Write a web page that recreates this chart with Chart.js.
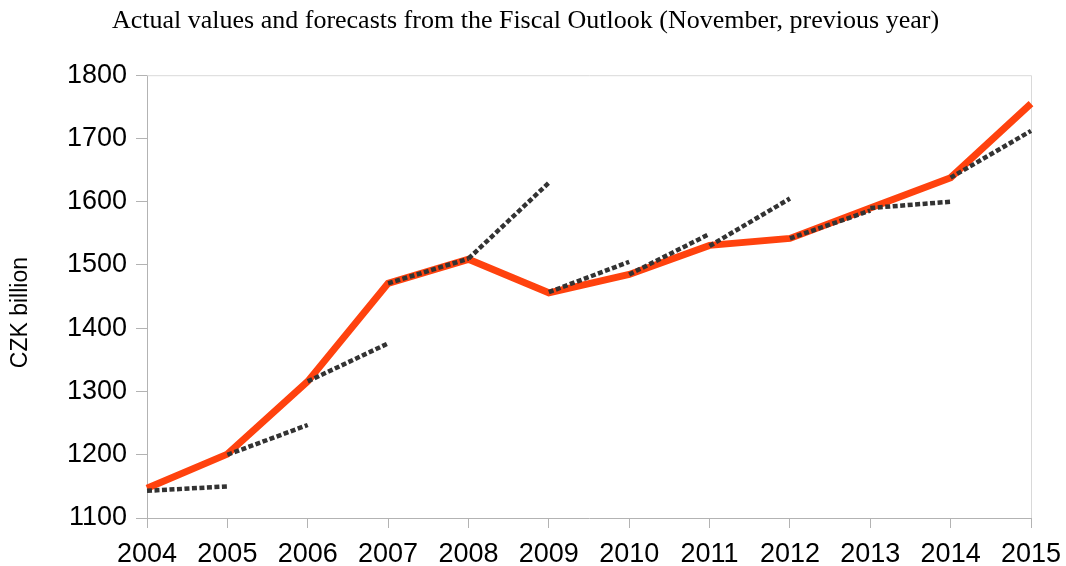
<!DOCTYPE html>
<html>
<head>
<meta charset="utf-8">
<script src="https://cdn.jsdelivr.net/npm/chart.js@4"></script>
<style>
  html, body { margin: 0; padding: 0; background: #fff; }
  #wrap { width: 1066px; height: 566px; }
</style>
</head>
<body>
<div id="wrap"><canvas id="fiscalChart" width="1066" height="566"></canvas></div>
<script>
// Years on the x axis
const years = ['2004', '2005', '2006', '2007', '2008', '2009', '2010', '2011', '2012', '2013', '2014', '2015'];
// Actual values, CZK billion
const actual = [1147, 1201, 1316, 1471, 1509, 1456, 1485, 1531, 1542, 1590, 1638, 1755];
// Each forecast runs from year i to year i+1
const forecastStart = [1143, 1200, 1316, 1471, 1510, 1457, 1485, 1530, 1542, 1590, 1638];
const forecastEnd = [1150, 1247, 1376, 1510, 1630, 1505, 1549, 1605, 1586, 1600, 1712];

// one small dataset per forecast, nulls everywhere else
const forecastSets = forecastStart.map(function(v, i) {
    const row = years.map(function() { return null; });
    row[i] = v;
    row[i + 1] = forecastEnd[i];
    return {
        label: 'Forecast ' + years[i + 1],
        data: row,
        borderColor: '#333333',
        borderWidth: 4.5,
        borderDash: [5, 2.5],
        borderCapStyle: 'butt',
        pointRadius: 0,
        fill: false,
        order: 1
    };
});

// light frame on the top and right of the plot area
const frame = {
    id: 'frame',
    beforeDatasetsDraw: function(chart) {
        const a = chart.chartArea;
        const c = chart.ctx;
        c.save();
        c.strokeStyle = '#d9d9d9';
        c.lineWidth = 1;
        c.beginPath();
        c.moveTo(a.left, a.top + 0.5);
        c.lineTo(a.right + 0.5, a.top + 0.5);
        c.lineTo(a.right + 0.5, a.bottom);
        c.stroke();
        c.restore();
    }
};

const ctx = document.getElementById('fiscalChart').getContext('2d');
const fiscalChart = new Chart(ctx, {
    type: 'line',
    data: {
        labels: years,
        datasets: [{
            label: 'Actual',
            data: actual,
            borderColor: '#ff420e',
            borderWidth: 7,
            pointRadius: 0,
            tension: 0,
            fill: false,
            order: 2
        }].concat(forecastSets)
    },
    options: {
        responsive: false,
        animation: false,
        devicePixelRatio: 1,
        layout: { padding: { left: 0, right: 15, top: 0, bottom: 0 } },
        plugins: {
            legend: { display: false },
            tooltip: { enabled: false },
            title: {
                display: true,
                text: 'Actual values and forecasts from the Fiscal Outlook (November, previous year)',
                color: '#000',
                font: { family: 'Liberation Serif', size: 26, weight: 'normal' },
                padding: { top: 6, bottom: 38 }
            }
        },
        scales: {
            x: {
                offset: false,
                grid: { drawOnChartArea: false, tickLength: 10, color: '#b3b3b3' },
                border: { color: '#b3b3b3' },
                ticks: { color: '#000', font: { family: 'Liberation Sans', size: 27 }, padding: 10, maxRotation: 0 },
                afterFit: function(s) {
                    s.height = 48;
                    s.paddingLeft = 0;
                    s.paddingRight = 35;
                }
            },
            y: {
                min: 1100,
                max: 1800,
                grid: { drawOnChartArea: false, tickLength: 11, color: '#b3b3b3' },
                border: { color: '#b3b3b3' },
                ticks: {
                    stepSize: 100,
                    color: '#000',
                    font: { family: 'Liberation Sans', size: 27 },
                    padding: 9,
                    callback: function(value) { return String(value); }
                },
                title: {
                    display: true,
                    // trailing spaces nudge the label down a little, as in the original
                    text: 'CZK billion     ',
                    color: '#000',
                    font: { family: 'Liberation Sans', size: 23 },
                    padding: { top: 7, bottom: 0 }
                },
                afterFit: function(s) { s.width = 147; }
            }
        }
    },
    plugins: [frame]
});
</script>
</body>
</html>
